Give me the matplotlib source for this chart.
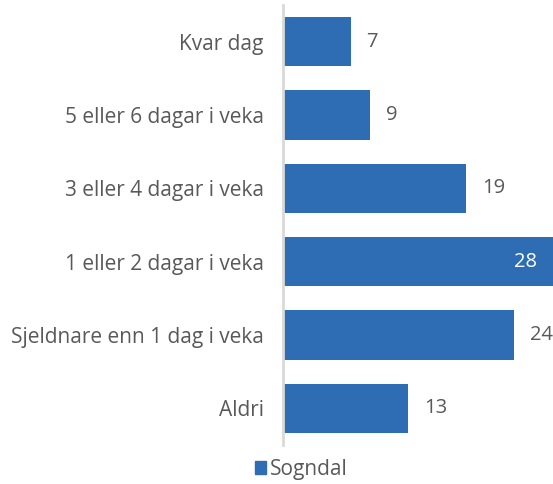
import matplotlib.pyplot as plt
from matplotlib.patches import Patch

categories = [
    "Kvar dag",
    "5 eller 6 dagar i veka",
    "3 eller 4 dagar i veka",
    "1 eller 2 dagar i veka",
    "Sjeldnare enn 1 dag i veka",
    "Aldri",
]
values = [7, 9, 19, 28, 24, 13]
series_name = "Sogndal"

bar_color = "#2E6DB4"
text_color = "#595959"

plt.rcParams["font.family"] = ["Open Sans", "DejaVu Sans"]

fig = plt.figure(figsize=(5.53, 4.84), dpi=100)
ax = fig.add_axes([0.5118, 0.0806, 0.4882, 0.9091])

ypos = list(range(len(categories)))
ax.barh(ypos, values, height=0.67, color=bar_color)
ax.set_ylim(len(categories) - 0.5, -0.5)
ax.set_xlim(0, 28)

for y, v in zip(ypos, values):
    if v >= max(values):
        ax.annotate(str(v), (v, y), xytext=(-16, 0), textcoords="offset pixels",
                    ha="right", va="center", color="white", fontsize=14.5)
    else:
        ax.annotate(str(v), (v, y), xytext=(16, 0), textcoords="offset pixels",
                    ha="left", va="center", color=text_color, fontsize=14.5)

ax.set_yticks(ypos)
ax.set_yticklabels(categories, fontsize=15, color=text_color)
ax.tick_params(axis="y", length=0, pad=14)
ax.set_xticks([])
for s in ["top", "right", "bottom"]:
    ax.spines[s].set_visible(False)
ax.spines["left"].set_color("#D9D9D9")
ax.spines["left"].set_linewidth(2)

handles = [Patch(color=bar_color, label=series_name)]
fig.legend(handles=handles, loc="lower center", bbox_to_anchor=(0.545, -0.03),
           frameon=False, fontsize=15, handlelength=0.55, handleheight=0.55,
           handletextpad=0.2, labelcolor=text_color)

fig.savefig("out.png", dpi=100)
